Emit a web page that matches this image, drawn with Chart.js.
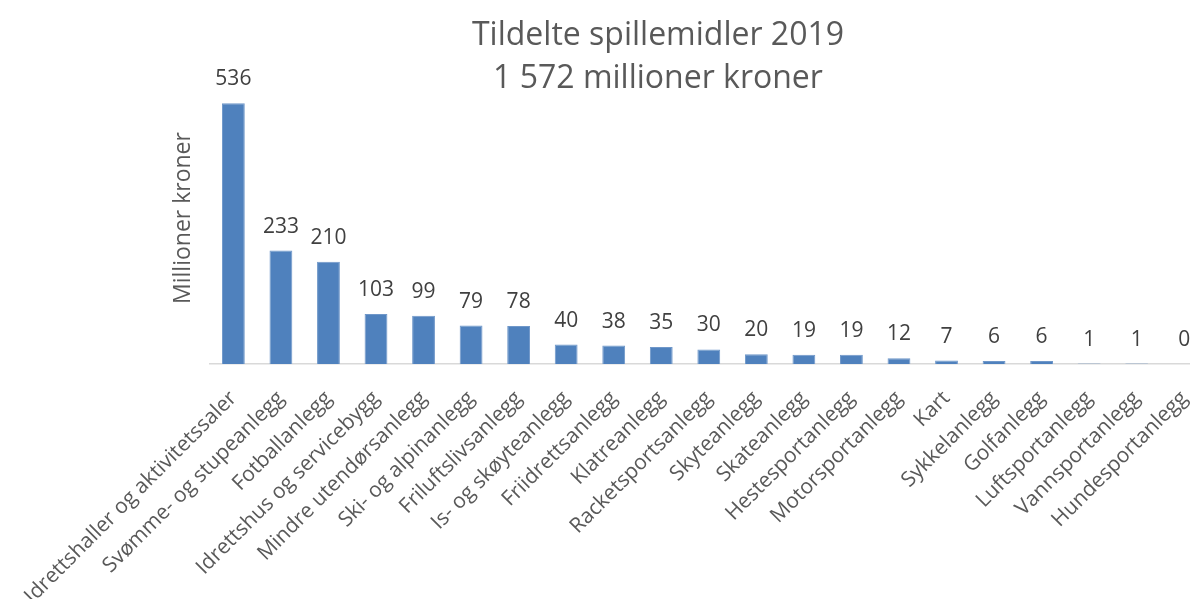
<!DOCTYPE html>
<html>
<head>
<meta charset="utf-8">
<title>Tildelte spillemidler 2019</title>
<script src="https://cdn.jsdelivr.net/npm/chart.js@4/dist/chart.umd.min.js"></script>
<style>
  html, body { margin: 0; padding: 0; background: #fff; overflow: hidden; }
  #wrap { width: 1210px; height: 599px; }
</style>
</head>
<body>
<div id="wrap"><canvas id="chart" width="1210" height="599"></canvas></div>
<script>
const categories = [
  'Idrettshaller og aktivitetssaler', 'Svømme- og stupeanlegg', 'Fotballanlegg',
  'Idrettshus og servicebygg', 'Mindre utendørsanlegg', 'Ski- og alpinanlegg',
  'Friluftslivsanlegg', 'Is- og skøyteanlegg', 'Friidrettsanlegg', 'Klatreanlegg',
  'Racketsportsanlegg', 'Skyteanlegg', 'Skateanlegg', 'Hestesportanlegg',
  'Motorsportanlegg', 'Kart', 'Sykkelanlegg', 'Golfanlegg', 'Luftsportanlegg',
  'Vannsportanlegg', 'Hundesportanlegg'
];
const millions = [536, 233, 210, 103, 99, 79, 78, 40, 38, 35, 30, 20, 19, 19, 12, 7, 6, 6, 1, 1, 0];
const titleLines = ['Tildelte spillemidler 2019', '1 572 millioner kroner'];
const yTitle = 'Millioner kroner';

const FONT = "'Open Sans', Calibri, sans-serif";

// value labels above each bar
const barValues = {
  id: 'barValues',
  afterDatasetsDraw(chart) {
    const ctx = chart.ctx;
    const meta = chart.getDatasetMeta(0);
    ctx.save();
    ctx.font = '21px ' + FONT;
    ctx.fillStyle = '#404040';
    ctx.textAlign = 'center';
    ctx.textBaseline = 'alphabetic';
    meta.data.forEach((bar, i) => {
      ctx.fillText(String(millions[i]), bar.x, bar.y - 18);
    });
    ctx.restore();
  }
};

new Chart(document.getElementById('chart'), {
  type: 'bar',
  data: {
    labels: categories,
    datasets: [{
      data: millions,
      backgroundColor: '#4f81bd',
      borderColor: '#6f97c9',
      borderWidth: 1,
      categoryPercentage: 1,
      barPercentage: 0.48
    }]
  },
  options: {
    responsive: false,
    animation: false,
    layout: { padding: { left: 108, right: 2, top: 0, bottom: 0 } },
    plugins: {
      legend: { display: false },
      tooltip: { enabled: false },
      title: {
        display: true,
        text: titleLines,
        color: '#595959',
        font: { family: FONT, size: 32, weight: 'normal', lineHeight: 1.344 },
        padding: { top: 14, bottom: -28 }
      }
    },
    scales: {
      x: {
        grid: { display: false },
        border: { display: true, color: '#d9d9d9', width: 1.5 },
        ticks: {
          autoSkip: false,
          minRotation: 45,
          maxRotation: 45,
          padding: 14,
          color: '#595959',
          font: { family: FONT, size: 21 }
        },
        afterFit(scale) {
          scale.height = 235;
          scale.paddingLeft = 0;
          scale.paddingRight = 0;
        }
      },
      y: {
        min: 0,
        max: 600,
        grid: { display: false },
        border: { display: false },
        ticks: { display: false },
        title: {
          display: true,
          text: yTitle,
          color: '#595959',
          font: { family: FONT, size: 23, lineHeight: 1.2 },
          padding: { top: 62, bottom: 4 }
        }
      }
    }
  },
  plugins: [barValues]
});
</script>
</body>
</html>
